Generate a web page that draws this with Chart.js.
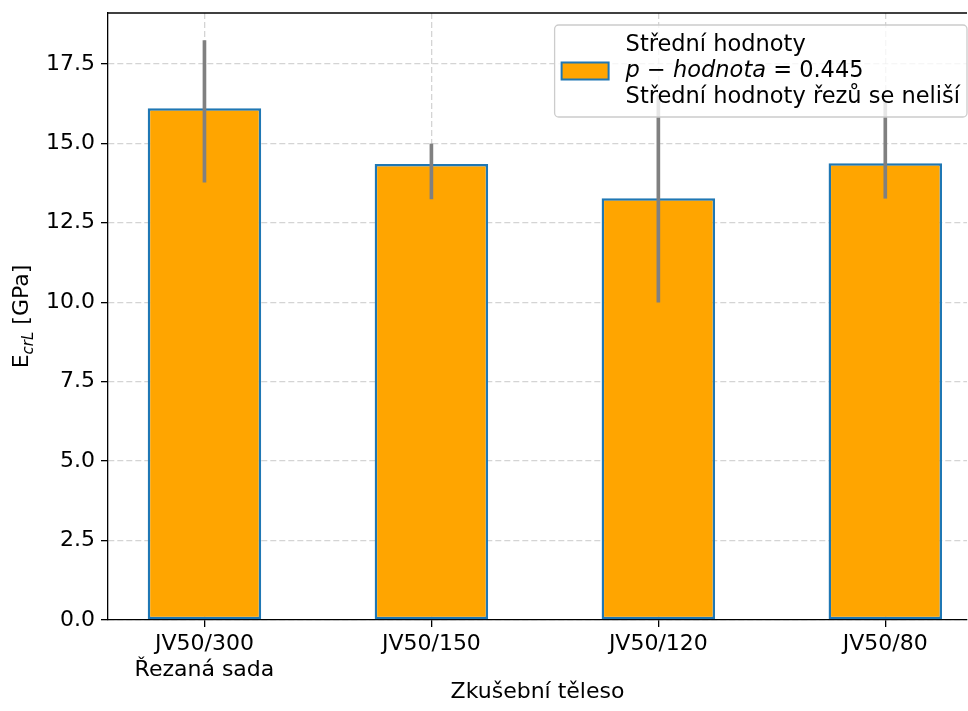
<!DOCTYPE html>
<html>
<head>
<meta charset="utf-8">
<script src="https://cdn.jsdelivr.net/npm/chart.js@4.4.0/dist/chart.umd.min.js"></script>
<style>
  html, body { margin: 0; padding: 0; background: #fff; }
  canvas { display: block; }
</style>
</head>
<body>
<canvas id="ecrlChart" width="968" height="711"></canvas>
<script>
// hodnoty
var categories = [['JV50/300', 'Řezaná sada'], 'JV50/150', 'JV50/120', 'JV50/80'];
var positions = [0, 1, 2, 3];
var meanValues = [16.1, 14.35, 13.27, 14.37];
var lowValues = [13.78, 13.25, 10.0, 13.27];
var highValues = [18.23, 14.98, 16.5, 16.3];
var yTicks = [0, 2.5, 5, 7.5, 10, 12.5, 15, 17.5];
var xTitle = 'Zkušební těleso';
var yTitle = ['E', 'crL', ' [GPa]'];
var legendLines = ['Střední hodnoty', 'p − hodnota = 0.445', 'Střední hodnoty řezů se neliší'];

var FONT = 'DejaVu Sans';
var FS = 22;

Chart.defaults.font.family = FONT;
Chart.defaults.font.size = FS;
Chart.defaults.color = '#000';

// horní okraj grafu
var topSpine = {
    id: 'topSpine',
    afterDraw: function (chart) {
        var a = chart.chartArea, ctx = chart.ctx;
        ctx.save();
        ctx.strokeStyle = '#000';
        ctx.lineWidth = 1.3;
        ctx.beginPath();
        ctx.moveTo(a.left, a.top);
        ctx.lineTo(a.right, a.top);
        ctx.stroke();
        ctx.restore();
    }
};

// popisek osy y s dolním indexem
var yLabel = {
    id: 'yLabel',
    afterDraw: function (chart) {
        var a = chart.chartArea, ctx = chart.ctx;
        ctx.save();
        var big = FS + 'px "' + FONT + '"';
        var small = 'italic ' + Math.round(FS * 0.7) + 'px "' + FONT + '"';
        ctx.font = big;
        var w0 = ctx.measureText(yTitle[0]).width;
        var w2 = ctx.measureText(yTitle[2]).width;
        ctx.font = small;
        var w1 = ctx.measureText(yTitle[1]).width;
        var total = w0 + w1 + w2;
        ctx.translate(28, (a.top + a.bottom) / 2);
        ctx.rotate(-Math.PI / 2);
        ctx.textBaseline = 'alphabetic';
        ctx.fillStyle = '#000';
        var x = -total / 2;
        ctx.font = big;
        ctx.fillText(yTitle[0], x, 0);
        x += w0;
        ctx.font = small;
        ctx.fillText(yTitle[1], x, 5);
        x += w1;
        ctx.font = big;
        ctx.fillText(yTitle[2], x, 0);
        ctx.restore();
    }
};

// legenda ve stylu matplotlib
var boxLegend = {
    id: 'boxLegend',
    afterDraw: function (chart) {
        var a = chart.chartArea, ctx = chart.ctx;
        ctx.save();
        var lfs = 22.5;
        var reg = lfs + 'px "' + FONT + '"';
        var ital = 'italic ' + lfs + 'px "' + FONT + '"';
        var parts = legendLines[1].split(' ');  // p, −, hodnota, =, 0.445
        var mathParts = [[parts[0], true], [' ' + parts[1] + ' ', false], [parts[2], true], [' ' + parts[3] + ' ' + parts[4], false]];
        ctx.font = reg;
        var textW = Math.max(ctx.measureText(legendLines[0]).width, ctx.measureText(legendLines[2]).width);
        var mathW = 0;
        mathParts.forEach(function (p) { ctx.font = p[1] ? ital : reg; mathW += ctx.measureText(p[0]).width; });
        textW = Math.max(textW, mathW);
        var pad = 7, sw = 47, sh = 17, gap = 17, lh = 26;
        var boxW = pad + sw + gap + textW + pad;
        var boxH = lh * 3 + 14;
        var right = a.right;
        var left = right - boxW;
        var top = a.top + 12;
        ctx.beginPath();
        ctx.roundRect(left, top, boxW, boxH, 4);
        ctx.fillStyle = 'rgba(255,255,255,0.8)';
        ctx.fill();
        ctx.strokeStyle = '#cccccc';
        ctx.lineWidth = 1.3;
        ctx.stroke();
        var midY = top + boxH / 2;
        ctx.fillStyle = '#ffa500';
        ctx.fillRect(left + pad, midY - sh / 2, sw, sh);
        ctx.strokeStyle = '#1f77b4';
        ctx.lineWidth = 2;
        ctx.strokeRect(left + pad, midY - sh / 2, sw, sh);
        ctx.fillStyle = '#000';
        ctx.textBaseline = 'middle';
        var tx = left + pad + sw + gap;
        ctx.font = reg;
        ctx.fillText(legendLines[0], tx, midY - lh);
        var x = tx;
        mathParts.forEach(function (p) {
            ctx.font = p[1] ? ital : reg;
            ctx.fillText(p[0], x, midY);
            x += ctx.measureText(p[0]).width;
        });
        ctx.font = reg;
        ctx.fillText(legendLines[2], tx, midY + lh);
        ctx.restore();
    }
};

var gridColor = 'rgba(176,176,176,0.55)';

new Chart(document.getElementById('ecrlChart'), {
    type: 'bar',
    data: {
        datasets: [{
            label: 'chyba',
            data: positions.map(function (p, i) { return {x: p, y: [lowValues[i], highValues[i]]}; }),
            backgroundColor: '#808080',
            borderWidth: 0,
            barThickness: 3,
            grouped: false,
            order: 0
        }, {
            label: legendLines[0],
            data: positions.map(function (p, i) { return {x: p, y: meanValues[i]}; }),
            backgroundColor: '#ffa500',
            borderColor: '#1f77b4',
            borderWidth: 2.5,
            borderSkipped: false,
            categoryPercentage: 1,
            barPercentage: 0.5,
            order: 1
        }]
    },
    options: {
        responsive: false,
        animation: false,
        devicePixelRatio: 1,
        layout: { padding: { top: 13, right: 1, left: 0, bottom: 0 } },
        plugins: {
            legend: { display: false },
            tooltip: { enabled: false }
        },
        scales: {
            x: {
                type: 'linear',
                min: -0.425,
                max: 3.36,
                offset: false,
                z: 1,
                afterBuildTicks: function (scale) {
                    scale.ticks = positions.map(function (v) { return {value: v}; });
                },
                afterFit: function (scale) {
                    scale.height = 91;
                    scale.paddingLeft = 0;
                    scale.paddingRight = 0;
                },
                ticks: {
                    autoSkip: false,
                    maxRotation: 0,
                    padding: 4,
                    callback: function (v) { return categories[v]; }
                },
                grid: {
                    offset: false,
                    color: gridColor,
                    lineWidth: 1.3,
                    tickColor: '#000',
                    tickLength: 7,
                    tickWidth: 1.3,
                    tickBorderDash: []
                },
                border: { color: '#000', width: 1.3, dash: [6, 3] },
                title: {
                    display: true,
                    text: xTitle,
                    padding: { top: 0, bottom: 6 }
                }
            },
            y: {
                min: 0,
                max: 19.1,
                z: 1,
                afterBuildTicks: function (scale) {
                    scale.ticks = yTicks.map(function (v) { return {value: v}; });
                },
                afterFit: function (scale) {
                    scale.width = 108;
                    scale.paddingTop = 0;
                    scale.paddingBottom = 0;
                },
                ticks: {
                    padding: 6,
                    callback: function (v) { return v.toFixed(1); }
                },
                grid: {
                    color: gridColor,
                    lineWidth: 1.3,
                    tickColor: '#000',
                    tickLength: 7,
                    tickWidth: 1.3,
                    tickBorderDash: []
                },
                border: { color: '#000', width: 1.3, dash: [6, 3] }
            }
        }
    },
    plugins: [topSpine, yLabel, boxLegend]
});
</script>
</body>
</html>
